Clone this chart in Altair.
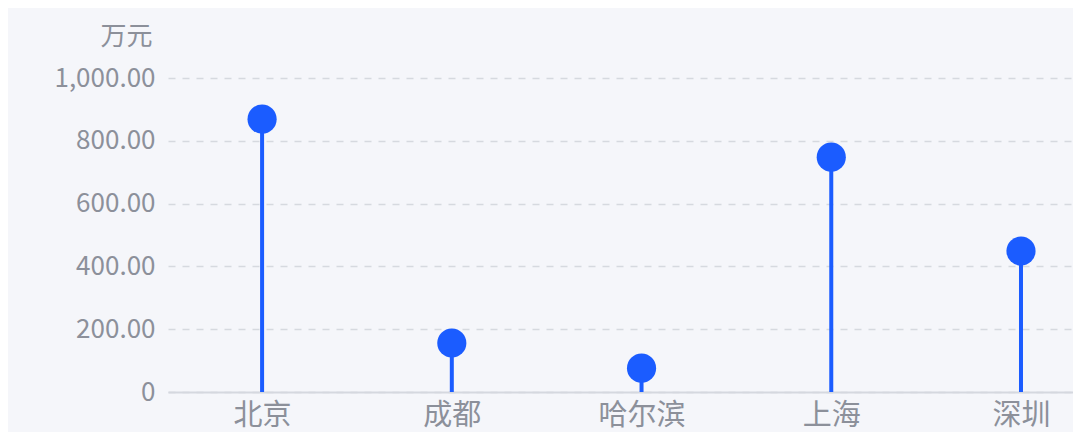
import altair as alt
import pandas as pd

cities = ["北京", "成都", "哈尔滨", "上海", "深圳"]
values = [869, 156, 76, 748, 449]

df = pd.DataFrame({"city": cities, "value": values})

FONT = "Noto Sans CJK SC"
BLUE = "#1b5cff"
GRAY = "#8c909a"

x = alt.X("city:N", sort=cities,
          scale=alt.Scale(type="point", padding=0.385, align=0.644),
          axis=alt.Axis(title=None, labelAngle=0, labelFontSize=29, labelColor=GRAY,
                        labelFont=FONT, ticks=False, labelPadding=9,
                        domainColor="#d5d8df", domainWidth=2, grid=False))
y = alt.Y("value:Q",
          scale=alt.Scale(domain=[0, 1000], nice=False),
          axis=alt.Axis(values=[0, 200, 400, 600, 800, 1000],
                        labelExpr="datum.value == 0 ? '0' : format(datum.value, ',.2f')",
                        labelFontSize=26, labelColor=GRAY, labelFont=FONT,
                        ticks=False, domain=False, labelPadding=13,
                        grid=True, gridColor="#d6d9df", gridDash=[7, 7], gridWidth=1.6,
                        title="万元", titleAngle=0, titleAlign="right", titleBaseline="middle",
                        titleX=-16, titleY=-42, titleFontSize=26, titleFont=FONT,
                        titleColor=GRAY, titleFontWeight="normal"))

base = alt.Chart(df)
rules = base.mark_rule(color=BLUE, strokeWidth=4).encode(x=x, y=y, y2=alt.datum(0))
dots = base.mark_circle(color=BLUE, opacity=1, size=850).encode(x=x, y=y)

chart = (rules + dots).properties(
    width=905, height=314,
    autosize=alt.AutoSizeParams(type="none"),
    padding={"left": 160, "top": 70, "right": 0, "bottom": 40},
    background="#f5f6fa",
).configure_view(stroke=None)

chart.save("out.html", embed_options={"renderer": "svg", "actions": False})
